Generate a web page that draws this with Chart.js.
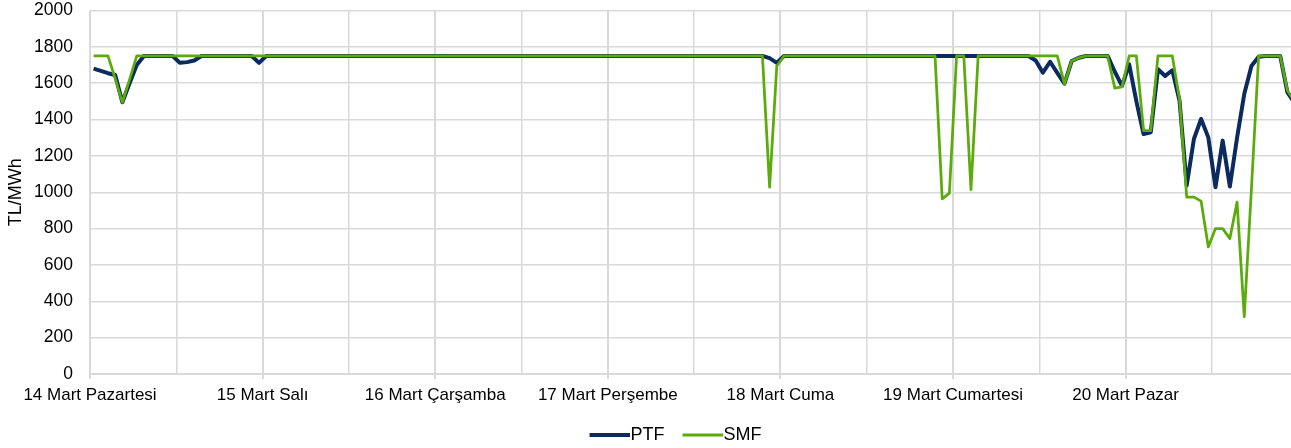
<!DOCTYPE html>
<html lang="tr">
<head>
<meta charset="utf-8">
<title>PTF - SMF</title>
<script src="https://cdn.jsdelivr.net/npm/chart.js@4.4.1/dist/chart.umd.min.js"></script>
<style>
    html, body { margin: 0; padding: 0; background: #fff; overflow: hidden; }
    #wrap { width: 1291px; height: 448px; position: relative; }
</style>
</head>
<body>
<div id="wrap"><canvas id="priceChart"></canvas></div>
<script>
// ============================================
// PTF / SMF saatlik fiyatlar (TL/MWh), 14-20 Mart
// ============================================

const dayLabels = ['14 Mart Pazartesi', '15 Mart Salı', '16 Mart Çarşamba', '17 Mart Perşembe',
                   '18 Mart Cuma', '19 Mart Cumartesi', '20 Mart Pazar'];

// PTF - her gün için 24 saat
const ptf14 = [1680, 1668, 1655, 1645, 1495, 1600, 1700, 1750, 1750, 1750, 1750, 1750,
               1712, 1716, 1725, 1750, 1750, 1750, 1750, 1750, 1750, 1750, 1750, 1712];
const ptf15 = [1750, 1750, 1750, 1750, 1750, 1750, 1750, 1750, 1750, 1750, 1750, 1750,
               1750, 1750, 1750, 1750, 1750, 1750, 1750, 1750, 1750, 1750, 1750, 1750];
const ptf16 = [1750, 1750, 1750, 1750, 1750, 1750, 1750, 1750, 1750, 1750, 1750, 1750,
               1750, 1750, 1750, 1750, 1750, 1750, 1750, 1750, 1750, 1750, 1750, 1750];
const ptf17 = [1750, 1750, 1750, 1750, 1750, 1750, 1750, 1750, 1750, 1750, 1750, 1750,
               1750, 1750, 1750, 1750, 1750, 1750, 1750, 1750, 1750, 1750, 1738, 1712];
const ptf18 = [1750, 1750, 1750, 1750, 1750, 1750, 1750, 1750, 1750, 1750, 1750, 1750,
               1750, 1750, 1750, 1750, 1750, 1750, 1750, 1750, 1750, 1750, 1750, 1750];
const ptf19 = [1750, 1750, 1750, 1750, 1750, 1750, 1750, 1750, 1750, 1750, 1750, 1725,
               1658, 1718, 1657, 1597, 1722, 1740, 1750, 1750, 1750, 1750, 1663, 1585];
const ptf20 = [1704, 1500, 1320, 1330, 1677, 1640, 1671, 1503, 1037, 1293, 1403, 1302,
               1028, 1284, 1032, 1300, 1540, 1695, 1745, 1750, 1750, 1750, 1550, 1490];

// SMF - her gün için 24 saat
const smf14 = [1750, 1750, 1750, 1625, 1495, 1620, 1750, 1750, 1750, 1750, 1750, 1750,
               1750, 1750, 1750, 1750, 1750, 1750, 1750, 1750, 1750, 1750, 1750, 1750];
const smf15 = [1750, 1750, 1750, 1750, 1750, 1750, 1750, 1750, 1750, 1750, 1750, 1750,
               1750, 1750, 1750, 1750, 1750, 1750, 1750, 1750, 1750, 1750, 1750, 1750];
const smf16 = [1750, 1750, 1750, 1750, 1750, 1750, 1750, 1750, 1750, 1750, 1750, 1750,
               1750, 1750, 1750, 1750, 1750, 1750, 1750, 1750, 1750, 1750, 1750, 1750];
const smf17 = [1750, 1750, 1750, 1750, 1750, 1750, 1750, 1750, 1750, 1750, 1750, 1750,
               1750, 1750, 1750, 1750, 1750, 1750, 1750, 1750, 1750, 1750, 1028, 1695];
const smf18 = [1750, 1750, 1750, 1750, 1750, 1750, 1750, 1750, 1750, 1750, 1750, 1750,
               1750, 1750, 1750, 1750, 1750, 1750, 1750, 1750, 1750, 1750, 964, 995];
const smf19 = [1750, 1750, 1014, 1750, 1750, 1750, 1750, 1750, 1750, 1750, 1750, 1750,
               1750, 1750, 1750, 1595, 1722, 1740, 1750, 1750, 1750, 1750, 1573, 1580];
const smf20 = [1750, 1750, 1339, 1339, 1750, 1750, 1750, 1512, 973, 973, 951, 699,
               800, 800, 745, 946, 316, 1020, 1750, 1750, 1750, 1750, 1560, 1500];

const ptfValues = [...ptf14, ...ptf15, ...ptf16, ...ptf17, ...ptf18, ...ptf19, ...ptf20];
const smfValues = [...smf14, ...smf15, ...smf16, ...smf17, ...smf18, ...smf19, ...smf20];

// eksen: 12 saatte bir ızgara, 24 saatte bir etiket
const gridHours = [0, 12, 24, 36, 48, 60, 72, 84, 96, 108, 120, 132, 144, 156];
const yMin = 0, yMax = 2000, yStep = 200;

const PTF_COLOR = '#0b2a5f';
const SMF_COLOR = '#5aab0b';
const GRID = '#d9d9d9';
Chart.defaults.font.family = "'Liberation Sans', Arial, sans-serif";
Chart.defaults.color = '#000';

// saat verisi: her saat kendi aralığının ortasında
const toPoints = (values) => values.map((v, i) => ({ x: i + 0.5, y: v }));

// lejant çizgisi (metne bitişik uzun çizgi)
function legendMarker(color, width) {
    const c = document.createElement('canvas');
    c.width = 48;
    c.height = 8;
    const g = c.getContext('2d');
    g.strokeStyle = color;
    g.lineWidth = width;
    g.beginPath();
    g.moveTo(8, 4);
    g.lineTo(48, 4);
    g.stroke();
    return c;
}

// lejantı biraz sağa kaydır
const legendShift = {
    id: 'legendShift',
    afterLayout(chart) {
        const lg = chart.legend;
        if (!lg) return;
        lg.left += 30;
        lg.right += 30;
    }
};

const ctx = document.getElementById('priceChart').getContext('2d');
const chart = new Chart(ctx, {
    type: 'line',
    data: {
        datasets: [{
            label: 'PTF',
            data: toPoints(ptfValues),
            borderColor: PTF_COLOR,
            backgroundColor: PTF_COLOR,
            borderWidth: 4,
            pointRadius: 0,
            pointHoverRadius: 0,
            tension: 0,
            borderJoinStyle: 'round',
            order: 2
        }, {
            label: 'SMF',
            data: toPoints(smfValues),
            borderColor: SMF_COLOR,
            backgroundColor: SMF_COLOR,
            borderWidth: 2.75,
            pointRadius: 0,
            pointHoverRadius: 0,
            tension: 0,
            borderJoinStyle: 'round',
            order: 1
        }]
    },
    plugins: [legendShift],
    options: {
        responsive: true,
        maintainAspectRatio: false,
        animation: false,
        layout: { padding: { left: 0, right: 0, top: 0, bottom: -6 } },
        plugins: {
            tooltip: { enabled: false },
            legend: {
                position: 'bottom',
                labels: {
                    usePointStyle: true,
                    pointStyleWidth: 32,
                    padding: 18,
                    color: '#000',
                    font: { size: 18 },
                    generateLabels: (chart) => {
                        const items = Chart.defaults.plugins.legend.labels.generateLabels(chart);
                        items.forEach(item => {
                            const ds = chart.data.datasets[item.datasetIndex];
                            item.pointStyle = legendMarker(ds.borderColor, ds.label === 'PTF' ? 4 : 3);
                        });
                        return items;
                    },
                    sort: (a, b) => a.datasetIndex - b.datasetIndex
                }
            }
        },
        scales: {
            x: {
                type: 'linear',
                min: 0,
                max: 167,
                afterBuildTicks: (scale) => {
                    scale.ticks = gridHours.map(h => ({ value: h }));
                },
                afterFit: (scale) => { scale.height = 34; },
                ticks: {
                    autoSkip: false,
                    maxRotation: 0,
                    padding: 6,
                    font: { size: 17 },
                    callback: (value) => value % 24 === 0 ? dayLabels[value / 24] : ''
                },
                grid: {
                    color: GRID,
                    lineWidth: (c) => (c.tick && c.tick.value % 24 === 0) ? 2 : 1.5,
                    tickLength: 5,
                    tickColor: (c) => (c.tick && c.tick.value % 24 === 0) ? GRID : 'rgba(0,0,0,0)',
                    tickWidth: 2
                },
                border: { display: true, color: GRID, width: 2 }
            },
            y: {
                min: yMin,
                max: yMax,
                afterFit: (scale) => { scale.width = 90; },
                ticks: {
                    stepSize: yStep,
                    padding: 0,
                    font: { size: 17.5 },
                    callback: (value) => String(value)
                },
                grid: {
                    color: GRID,
                    lineWidth: 1.5,
                    drawTicks: true,
                    tickLength: 17,
                    tickColor: 'rgba(0,0,0,0)'
                },
                border: { display: false },
                title: {
                    display: true,
                    text: 'TL/MWh',
                    font: { size: 18 },
                    padding: { top: 5, bottom: 4 }
                }
            }
        }
    }
});
</script>
</body>
</html>
